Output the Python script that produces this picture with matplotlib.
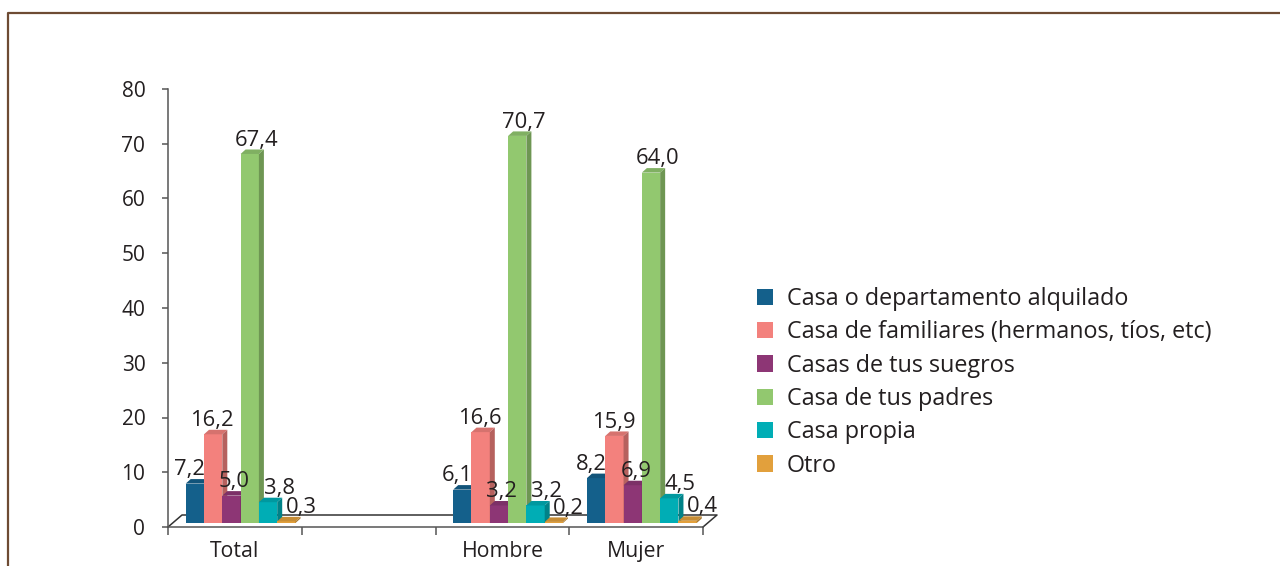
import matplotlib
matplotlib.use("Agg")
import matplotlib.pyplot as plt
from matplotlib.patches import Polygon, Rectangle, Patch
from matplotlib.lines import Line2D
import matplotlib.colors as mcolors

# ---------------- data ----------------
categories = ["Total", "", "Hombre", "Mujer"]
series_names = [
    "Casa o departamento alquilado",
    "Casa de familiares (hermanos, tíos, etc)",
    "Casas de tus suegros",
    "Casa de tus padres",
    "Casa propia",
    "Otro",
]
alquilado = [7.2, None, 6.1, 8.2]
familiares = [16.2, None, 16.6, 15.9]
suegros = [5.0, None, 3.2, 6.9]
padres = [67.4, None, 70.7, 64.0]
propia = [3.8, None, 3.2, 4.5]
otro = [0.3, None, 0.2, 0.4]
series_values = [alquilado, familiares, suegros, padres, propia, otro]
yticks = [0, 10, 20, 30, 40, 50, 60, 70, 80]

colors = ["#14608b", "#f3817d", "#8d3675", "#92c86f", "#00adb5", "#e2a03c"]

# ---------------- style ----------------
FONT = "Open Sans"
TXT = "#231f20"
AX = "#555555"
plt.rcParams["font.family"] = [FONT, "DejaVu Sans"]

W, H = 1280, 566
fig = plt.figure(figsize=(W / 100, H / 100), dpi=100)
fig.patch.set_facecolor("white")

x0, x1 = 168, 703
y0, y1 = 527, 89
ax = fig.add_axes([x0 / W, 1 - y0 / H, (x1 - x0) / W, (y0 - y1) / H])
ax.set_xlim(0, 4)
ax.set_ylim(0, 80)

# px -> data helpers
px_x = 4 / (x1 - x0)
px_y = 80 / (y0 - y1)

bar_w = 18.3 * px_x
group_off = 17.7 * px_x
depth_x = 5 * px_x
depth_y = 4.5 * px_y
base = 4 * px_y


def shade(c, f):
    r, g, b = mcolors.to_rgb(c)
    return (r * f, g * f, b * f)


# floor (3D back edge)
fdx, fdy = 14 * px_x, 12 * px_y
ax.add_line(Line2D([0, fdx, 4 + fdx, 4], [0, fdy, fdy, 0], color="#333333",
                   lw=1.1, clip_on=False, zorder=2))

for ci, cat in enumerate(categories):
    for si, vals in enumerate(series_values):
        v = vals[ci]
        if v is None:
            continue
        c = colors[si]
        left = ci + group_off + si * bar_w
        bottom = base
        top = base + v
        z = 3 + ci * 10 + si
        ax.add_patch(Rectangle((left, bottom), bar_w, v, facecolor=c,
                               edgecolor="none", zorder=z, clip_on=False))
        ax.add_patch(Polygon([(left, top), (left + bar_w, top),
                              (left + bar_w + depth_x, top + depth_y),
                              (left + depth_x, top + depth_y)],
                             closed=True, facecolor=shade(c, 0.88),
                             edgecolor="none", zorder=z, clip_on=False))
        ax.add_patch(Polygon([(left + bar_w, bottom),
                              (left + bar_w + depth_x, bottom + depth_y),
                              (left + bar_w + depth_x, top + depth_y),
                              (left + bar_w, top)],
                             closed=True, facecolor=shade(c, 0.75),
                             edgecolor="none", zorder=z, clip_on=False))
        label = f"{v:.1f}".replace(".", ",")
        ax.annotate(label, (left + bar_w / 2, top), xytext=((-5 + 4 * si) * 0.72, 6),
                    textcoords="offset points", ha="center", va="baseline",
                    fontsize=15.8, color=TXT, zorder=100, annotation_clip=False)

# axes styling
for s in ["top", "right"]:
    ax.spines[s].set_visible(False)
for s in ["left", "bottom"]:
    ax.spines[s].set_color(AX)
    ax.spines[s].set_linewidth(1.1)

ax.set_yticks(yticks)
ax.set_yticklabels([str(t) for t in yticks])
ax.tick_params(axis="y", direction="out", length=4.3, width=1.1, color=AX,
               pad=12, labelsize=15, labelcolor=TXT)

ax.set_xticks([0, 1, 2, 3, 4])
ax.set_xticklabels([])
ax.set_xticks([0.5, 1.5, 2.5, 3.5], minor=True)
ax.set_xticklabels(categories, minor=True)
ax.tick_params(axis="x", which="major", direction="out", length=6, width=1.1, color=AX)
ax.tick_params(axis="x", which="minor", length=0, pad=10, labelsize=15.3, labelcolor=TXT)

# legend
handles = [Patch(facecolor=c, edgecolor="none") for c in colors]
leg = fig.legend(handles, series_names, loc="upper left",
                 bbox_to_anchor=(757 / W, 1 - 287 / H), frameon=False,
                 fontsize=16.8, handlelength=0.68, handleheight=0.68,
                 handletextpad=0.6, labelspacing=0.4, borderaxespad=0,
                 borderpad=0)
for t in leg.get_texts():
    t.set_color(TXT)

# brown frame
fc = "#6e4b33"
fig.add_artist(Line2D([8 / W, 8 / W, 1.0], [0, 1 - 12.5 / H, 1 - 12.5 / H],
                      transform=fig.transFigure, color=fc, lw=1.6))

fig.savefig("out.png", dpi=100)
